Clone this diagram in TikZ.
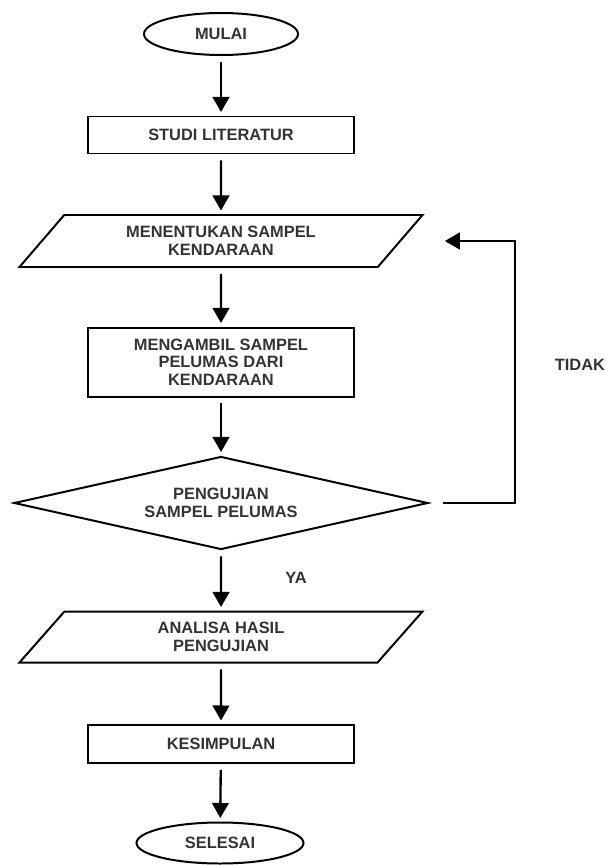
\documentclass[tikz,border=0pt]{standalone}
\usepackage{fontspec}
\setmainfont{Liberation Sans}
\usepackage{tikz}
\usetikzlibrary{arrows.meta,shapes.geometric,calc}
\tikzset{>={Triangle[length=0.45cm,width=0.5cm]}}
\tikzset{
  txt/.style={align=center,font=\fontsize{14}{15}\selectfont\bfseries\color{black!80}},
  term/.style={txt,draw,ellipse,inner sep=0pt},
  proc/.style={txt,draw,rectangle,minimum width=7.98cm,inner sep=0pt},
  data/.style={txt,draw,trapezium,trapezium left angle=33,trapezium right angle=147,
    trapezium stretches body,minimum width=12.09cm,inner sep=0pt},
  dec/.style={txt,draw,diamond,aspect=4.45,minimum width=12.42cm,minimum height=2.79cm,inner sep=0pt}
}

\begin{document}
\begin{tikzpicture}[line width=1.7pt]

\useasboundingbox (0,0) rectangle (18.21,-25.95);

\node [term,minimum width=4.62cm,minimum height=1.26cm] (mulai) at (6.63,-1.02) {MULAI};
\node [proc,minimum height=1.11cm] (studi) at (6.63,-4.05) {STUDI LITERATUR};
\node [data,minimum height=1.56cm] (sampel) at (6.63,-7.23) {MENENTUKAN SAMPEL\\KENDARAAN};
\node [proc,minimum height=2.07cm] (ambil) at (6.63,-10.86) {MENGAMBIL SAMPEL\\PELUMAS DARI\\KENDARAAN};
\node [dec] (uji) at (6.63,-15.09) {PENGUJIAN\\SAMPEL PELUMAS};
\node [data,minimum height=1.53cm] (analisa) at (6.63,-19.11) {ANALISA HASIL\\PENGUJIAN};
\node [proc,minimum height=1.14cm] (simpul) at (6.63,-22.32) {KESIMPULAN};
\node [term,minimum width=5.01cm,minimum height=1.23cm] (selesai) at (6.6,-25.29) {SELESAI};

\node [txt,anchor=east,inner sep=0pt] (tidak) at (18.18,-10.95) {TIDAK};
\node [txt] (ya) at (8.88,-17.34) {YA};

\coordinate (balik) at (15.45,-11);

\begin{scope}[line width=2pt,shorten >= 3pt, shorten <= 5pt]
\draw[->,color=black] (mulai) to (studi);
\draw[->,color=black] (studi) to (sampel);
\draw[->,color=black] (sampel) to (ambil);
\draw[->,color=black] (ambil) to (uji);
\draw[->,color=black] (uji) to (analisa);
\draw[->,color=black] (analisa) to (simpul);
\draw[->,color=black] (simpul) to (selesai);
\draw[->,color=black,shorten <=0.42cm,shorten >=1.3cm] (uji.east) -| (balik) |- (sampel.east);
\end{scope}

\end{tikzpicture}
\end{document}
